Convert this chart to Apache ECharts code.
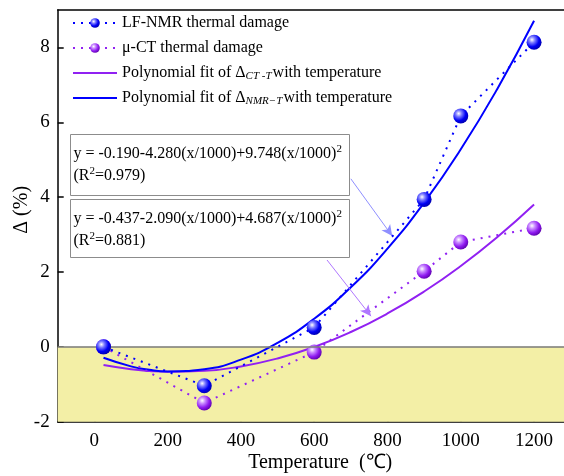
<!DOCTYPE html>
<html>
<head>
<meta charset="utf-8">
<script src="https://cdn.jsdelivr.net/npm/echarts@6/dist/echarts.min.js"></script>
<style>
  html, body { margin: 0; padding: 0; background: #ffffff; }
  #chart { width: 564px; height: 476px; }
</style>
</head>
<body>
<div id="chart"></div>
<script>
// Measured thermal damage at each treatment temperature (°C -> %)
const temps = [25, 300, 600, 900, 1000, 1200];
const nmrDamage = [0, -1.04, 0.52, 3.94, 6.17, 8.14];
const ctDamage = [0, -1.5, -0.14, 2.02, 2.8, 3.17];

// Quadratic fit curves sampled along the temperature range
const fitTemps = [25, 100, 150, 200, 300, 400, 500, 600, 700, 800, 900, 1000, 1100, 1200];
const nmrFit = [-0.291, -0.521, -0.613, -0.656, -0.597, -0.342, 0.107, 0.751, 1.591, 2.625, 3.854, 5.278, 6.897, 8.711];
const ctFit = [-0.486, -0.599, -0.645, -0.668, -0.642, -0.523, -0.310, -0.004, 0.397, 0.891, 1.478, 2.160, 2.935, 3.804];

// Axis ticks
const xTicks = [0, 200, 400, 600, 800, 1000, 1200];
const yTicks = [-2, 0, 2, 4, 6, 8];

// Legend / series names and fit equations
const names = ['LF-NMR thermal damage', 'μ-CT thermal damage', 'fitCT', 'fitNMR'];
const eqNMR = ['y = -0.190-4.280(x/1000)+9.748(x/1000)', '(R', '=0.979)'];
const eqCT = ['y = -0.437-2.090(x/1000)+4.687(x/1000)', '(R', '=0.881)'];

const pair = (xs, ys) => xs.map((x, i) => [x, ys[i]]);

const serif = '"Liberation Serif", "Times New Roman", serif';
const BLUE = '#0000ff';
const PURPLE = '#9121f2';

function sphere(light, mid, base, dark) {
  return {
    type: 'radial', x: 0.36, y: 0.34, r: 0.72,
    colorStops: [
      { offset: 0, color: light },
      { offset: 0.28, color: mid },
      { offset: 0.65, color: base },
      { offset: 1, color: dark }
    ]
  };
}

const chart = echarts.init(document.getElementById('chart'), null, { renderer: 'canvas' });

const axisText = { fontFamily: serif, fontSize: 19, color: '#000', formatter: v => String(v) };
const hiddenSymbol = { color: 'rgba(0,0,0,0)', borderWidth: 0 };

const option = {
  animation: false,
  backgroundColor: '#ffffff',
  grid: { left: 57.7, top: 10, width: 513, height: 411.7, containLabel: false, outerBoundsMode: 'none' },
  legend: {
    orient: 'vertical',
    left: 67,
    top: 9,
    itemWidth: 44,
    itemHeight: 12,
    itemGap: 7,
    data: [
      { name: names[0] },
      { name: names[1] },
      { name: names[2], itemStyle: hiddenSymbol },
      { name: names[3], itemStyle: hiddenSymbol }
    ],
    textStyle: {
      fontFamily: serif, fontSize: 16, color: '#000', lineHeight: 18,
      rich: {
        a: { fontFamily: serif, fontSize: 16, color: '#000', lineHeight: 18 },
        s: { fontFamily: serif, fontSize: 11, fontStyle: 'italic', color: '#000', lineHeight: 12, padding: [6, 1, 0, 0] }
      }
    },
    formatter: function (n) {
      if (n === 'fitCT') return '{a|Polynomial fit of Δ}{s|CT -T}{a|with temperature}';
      if (n === 'fitNMR') return '{a|Polynomial fit of Δ}{s|NMR−T}{a|with temperature}';
      return n;
    }
  },
  xAxis: [{
    type: 'value',
    min: -100, max: 1300,
    name: 'Temperature  (℃)',
    nameLocation: 'middle',
    nameGap: 31,
    nameMoveOverlap: false,
    nameTextStyle: { fontFamily: serif, fontSize: 20, color: '#000', padding: [0, 0, 0, 12] },
    axisLine: { show: true, onZero: false, lineStyle: { color: '#000', width: 1.5 } },
    axisTick: { show: true, inside: true, length: 6, customValues: xTicks, lineStyle: { color: '#000', width: 1.5 } },
    axisLabel: Object.assign({ customValues: xTicks, margin: 10 }, axisText),
    splitLine: { show: false }
  }, {
    type: 'value',
    position: 'top',
    min: -100, max: 1300,
    axisLine: { show: true, onZero: false, lineStyle: { color: '#000', width: 1.5 } },
    axisTick: { show: false },
    axisLabel: { show: false },
    splitLine: { show: false }
  }],
  yAxis: {
    type: 'value',
    min: -2, max: 9,
    name: 'Δ (%)',
    nameLocation: 'middle',
    nameGap: 26,
    nameMoveOverlap: false,
    nameTextStyle: { fontFamily: serif, fontSize: 20, color: '#000', padding: [0, 0, 0, 12] },
    axisLine: { show: true, onZero: false, lineStyle: { color: '#000', width: 1.5 } },
    axisTick: { show: true, inside: true, length: 6, customValues: yTicks, lineStyle: { color: '#000', width: 1.5 } },
    axisLabel: Object.assign({ customValues: yTicks, margin: 8 }, axisText),
    splitLine: { show: false }
  },
  series: [
    {
      name: names[0],
      type: 'line',
      data: pair(temps, nmrDamage),
      z: 5,
      symbol: 'circle',
      symbolSize: 15,
      itemStyle: { color: sphere('#ffffff', '#7d7dff', '#0000f5', '#0000a8') },
      lineStyle: { color: BLUE, width: 2, type: [2, 6] },
      markArea: {
        silent: true,
        itemStyle: { color: '#f3efa6' },
        data: [[{ yAxis: -2 }, { yAxis: 0 }]]
      },
      markLine: {
        silent: true,
        symbol: 'none',
        label: { show: false },
        lineStyle: { color: '#7a7a7a', width: 1.5, type: 'solid' },
        data: [{ yAxis: 0 }]
      }
    },
    {
      name: names[1],
      type: 'line',
      data: pair(temps, ctDamage),
      z: 4,
      symbol: 'circle',
      symbolSize: 15,
      itemStyle: { color: sphere('#ffffff', '#c98cff', '#8f1af0', '#5a00a8') },
      lineStyle: { color: PURPLE, width: 2, type: [2, 6] }
    },
    {
      name: names[2],
      type: 'line',
      data: pair(fitTemps, ctFit),
      z: 3,
      smooth: true,
      symbol: 'none',
      itemStyle: { color: PURPLE },
      lineStyle: { color: PURPLE, width: 2 },
      markLine: {
        silent: true,
        symbol: ['none', 'arrow'],
        symbolSize: [8, 11],
        label: { show: false },
        lineStyle: { color: '#b077ff', width: 1, type: 'solid' },
        data: [[{ coord: [635, 2.32] }, { coord: [755, 0.82] }]]
      }
    },
    {
      name: names[3],
      type: 'line',
      data: pair(fitTemps, nmrFit),
      z: 3,
      smooth: true,
      symbol: 'none',
      itemStyle: { color: BLUE },
      lineStyle: { color: BLUE, width: 2 },
      markLine: {
        silent: true,
        symbol: ['none', 'arrow'],
        symbolSize: [8, 11],
        label: { show: false },
        lineStyle: { color: '#8f8fff', width: 1, type: 'solid' },
        data: [[{ coord: [700, 4.49] }, { coord: [813, 2.96] }]]
      }
    }
  ],
  graphic: [
    makeBox(70, 134, 279, 61, eqNMR),
    makeBox(70, 199, 279, 58, eqCT)
  ]
};

// Framed equation label: first line with a squared term, second line with R²
function makeBox(x, y, w, h, eq) {
  const rich = {
    t: { fontFamily: serif, fontSize: 16, color: '#000', lineHeight: 22 },
    p: { fontFamily: serif, fontSize: 11, color: '#000', padding: [0, 0, 9, 0], lineHeight: 22 }
  };
  return {
    type: 'group',
    left: x, top: y,
    z: 10,
    children: [
      { type: 'rect', shape: { x: 0, y: 0, width: w, height: h },
        style: { fill: '#ffffff', stroke: '#8c8c8c', lineWidth: 1 } },
      { type: 'text', x: 3, y: 8,
        style: {
          text: '{t|' + eq[0] + '}{p|2}\n{t|' + eq[1] + '}{p|2}{t|' + eq[2] + '}',
          rich: rich
        } }
    ]
  };
}

chart.setOption(option);
</script>
</body>
</html>
